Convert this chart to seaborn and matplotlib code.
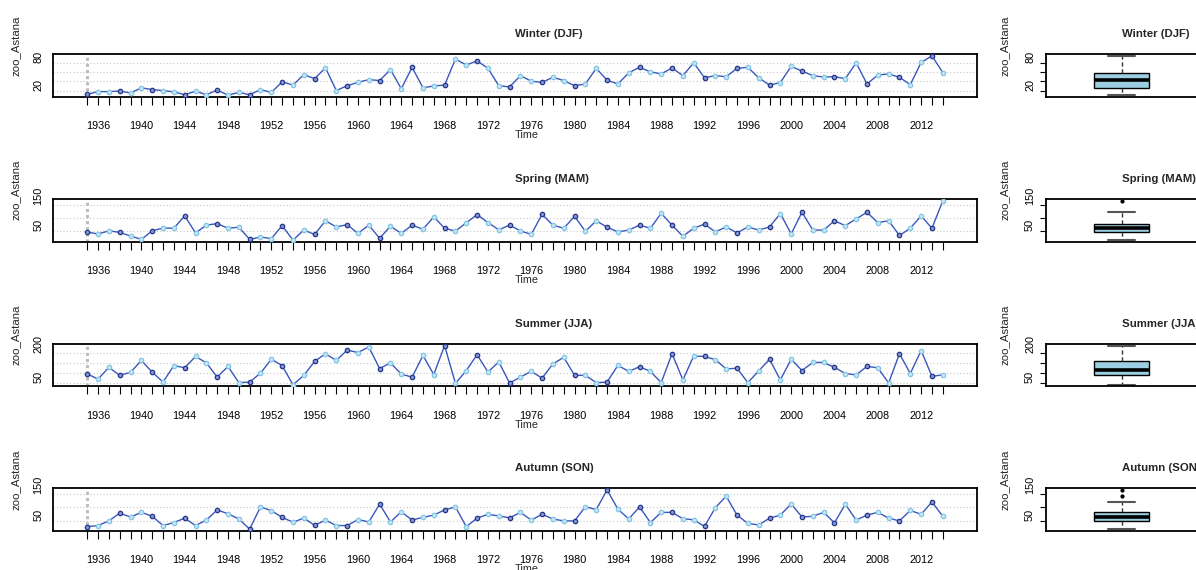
import numpy as np
import pandas as pd
import matplotlib
matplotlib.use('Agg')
import matplotlib.pyplot as plt
import seaborn as sns

# ---------------- data ----------------
years = list(range(1935, 2015))

winter = [11.6, 17.7, 17.7, 19, 14.7, 26, 22, 20, 17, 11,
          18.5, 11, 21, 10, 16, 11, 22, 16, 39, 32,
          55, 46, 70, 20, 30.6, 38, 44, 42, 66, 24,
          71, 26, 30, 32, 89, 76, 85, 69, 30.6, 28,
          52.7, 40.5, 38, 49, 42, 30.6, 34.4, 68.6, 42.8, 34.4,
          58.8, 71, 61, 56.5, 69.4, 52.7, 80.8, 48, 52.7, 50.4,
          68.6, 71, 48, 32, 37.5, 73, 62.6, 52.7, 49.6, 50.4,
          46, 80.8, 34.4, 54, 56.5, 49, 33, 81.6, 96, 59.5]

spring = [46, 39, 51, 45, 31, 18, 51, 62, 61, 109,
          43, 73, 79, 61, 65, 18, 27, 21, 71, 15,
          54, 37, 90, 66, 75, 41, 73, 22, 69, 41,
          73, 57, 105, 61, 50, 82, 114, 83, 55, 73,
          51, 37, 115, 73, 61, 107, 49, 90, 65, 47,
          54, 73, 61, 119, 73, 30, 61, 77, 47, 66,
          43, 66, 54, 66, 118, 39, 123, 54, 54, 90,
          71, 97, 123, 83, 90, 33, 61, 109, 61, 167]

summer = [96, 70, 129, 89, 104, 164, 105, 55, 138, 127,
          184, 152, 80, 134, 52, 55, 100, 170, 138, 41,
          89, 159, 198, 164, 216, 204, 232, 123, 152, 95,
          80, 189, 93, 239, 48, 113, 193, 105, 157, 50,
          80, 109, 75, 146, 180, 89, 89, 52, 55, 139,
          109, 132, 109, 52, 198, 66, 186, 184, 168, 121,
          125, 52, 111, 170, 66, 170, 113, 154, 154, 129,
          98, 91, 134, 127, 50, 198, 98, 214, 84, 91]

autumn = [30, 34, 51, 79, 65, 82, 68, 34, 45, 61,
          34, 54, 91, 77, 58, 21, 102, 88, 64, 46,
          61, 35, 54, 34, 34, 56, 47, 112, 47, 84,
          54, 64, 72, 91, 102, 30, 61, 75, 69, 62,
          82, 54, 75, 58, 51, 51, 103, 92, 164, 94,
          58, 102, 45, 82, 82, 59, 55, 31, 99, 141,
          72, 42, 36, 61, 72, 113, 65, 68, 82, 44,
          112, 54, 72, 82, 61, 51, 89, 75, 120, 68]

season_titles = ["Winter (DJF)", "Spring (MAM)", "Summer (JJA)", "Autumn (SON)"]
grid_levels = [[20, 40, 60, 80], [50, 100, 150], [50, 100, 150, 200], [50, 100, 150]]
ylabel_levels = [[20, 80], [50, 150], [50, 200], [50, 150]]
xtick_label_years = list(range(1936, 2013, 4))
y_label = "zoo_Astana"
x_label = "Time"

series = [winter, spring, summer, autumn]

# ---------------- style ----------------
sns.set_theme(style='white')
plt.rcParams['font.family'] = ['Liberation Sans', 'DejaVu Sans']

W, H = 1196, 570
fig = plt.figure(figsize=(W / 100, H / 100), dpi=100)


def fx(px):
    return px / W


def fy(py):
    return 1 - py / H


tops = [54.3, 199.3, 344.0, 488.3]
hgt = 42.4
main_l, main_r = 53, 977
box_l, box_r = 1046, 1197

LINE = '#3a58bb'
LIGHT_FACE, LIGHT_EDGE = '#c4e6f5', '#86c5e3'
DARK_FACE, DARK_EDGE = '#8196d2', '#26378a'
GRID = '#c8c8c8'


def style_spines(a):
    for sp in a.spines.values():
        sp.set_visible(True)
        sp.set_color('black')
        sp.set_linewidth(1.3)


for i, (vals, title) in enumerate(zip(series, season_titles)):
    top = tops[i]
    bot = top + hgt
    df = pd.DataFrame({'year': years, 'value': vals})
    df['dark'] = [(y - years[0]) % 3 == 0 for y in years]
    lo, hi = min(vals), max(vals)
    pad = 0.04 * (hi - lo)
    ylim = (lo - pad, hi + pad)
    xpad = 0.04 * (years[-1] - years[0])

    # ----- time series panel -----
    ax = fig.add_axes([fx(main_l), fy(bot), fx(main_r - main_l), hgt / H])
    for g in grid_levels[i]:
        ax.axhline(g, color=GRID, lw=0.8, ls=(0, (1, 2)), zorder=0)
    ax.axvline(years[0], color='#bdbdbd', lw=2.2, ls=(0, (1, 1)), zorder=0.5)
    sns.lineplot(data=df, x='year', y='value', ax=ax, color=LINE, lw=1.0, zorder=2)
    sns.scatterplot(data=df[~df['dark']], x='year', y='value', ax=ax, s=10,
                    color=LIGHT_FACE, edgecolor=LIGHT_EDGE, linewidth=0.9, zorder=3)
    sns.scatterplot(data=df[df['dark']], x='year', y='value', ax=ax, s=10,
                    color=DARK_FACE, edgecolor=DARK_EDGE, linewidth=0.9, zorder=3)
    ax.set_xlim(years[0] - xpad, years[-1] + xpad)
    ax.set_ylim(*ylim)
    ax.set_xticks(years)
    ax.set_xticklabels([str(y) if y in xtick_label_years else '' for y in years])
    ax.set_yticks(grid_levels[i])
    ax.set_yticklabels([str(v) if v in ylabel_levels[i] else '' for v in grid_levels[i]],
                       rotation=90, va='bottom')
    ax.tick_params(axis='x', bottom=True, direction='out', length=5.8, width=0.8,
                   pad=12, labelsize=7.8, colors='black')
    ax.tick_params(axis='y', left=False, length=0, pad=7, labelsize=7.8, colors='black')
    ax.set_xlabel('')
    ax.set_ylabel('')
    style_spines(ax)

    fig.text(fx(515), fy(top - 20), title, ha='left', va='center', fontsize=8.2,
             fontweight='bold')
    fig.text(fx(515), fy(bot + 38.5), x_label, ha='left', va='center', fontsize=7.8)
    fig.text(fx(16), fy(top + hgt / 2), y_label, rotation=90, ha='center', va='bottom',
             fontsize=8.2)

    # ----- boxplot panel -----
    axb = fig.add_axes([fx(box_l), fy(bot), fx(box_r - box_l), hgt / H])
    sns.boxplot(y=vals, ax=axb, color='#9ccfe2', width=0.364, saturation=1,
                linecolor='black', linewidth=1.0,
                whiskerprops=dict(ls=(0, (3, 2)), color='#333333', lw=1.0),
                capprops=dict(color='#555555', lw=1.5),
                medianprops=dict(color='black', lw=2.6),
                flierprops=dict(marker='o', markersize=2, markerfacecolor='black',
                                markeredgecolor='black'))
    axb.set_xlim(-0.5, 0.5)
    axb.set_ylim(*ylim)
    axb.set_xticks([])
    axb.set_yticks(grid_levels[i])
    axb.set_yticklabels([str(v) if v in ylabel_levels[i] else '' for v in grid_levels[i]],
                        rotation=90, va='bottom')
    axb.tick_params(axis='y', left=True, direction='out', length=4.3, width=0.8, pad=3.6,
                    labelsize=7.8, colors='black')
    axb.set_xlabel('')
    axb.set_ylabel('')
    style_spines(axb)

    fig.text(fx(1122), fy(top - 20), title, ha='left', va='center', fontsize=8.2,
             fontweight='bold')
    fig.text(fx(1005), fy(top + hgt / 2), y_label, rotation=90, ha='center', va='bottom',
             fontsize=8.2)

fig.savefig('out.png', dpi=100)
